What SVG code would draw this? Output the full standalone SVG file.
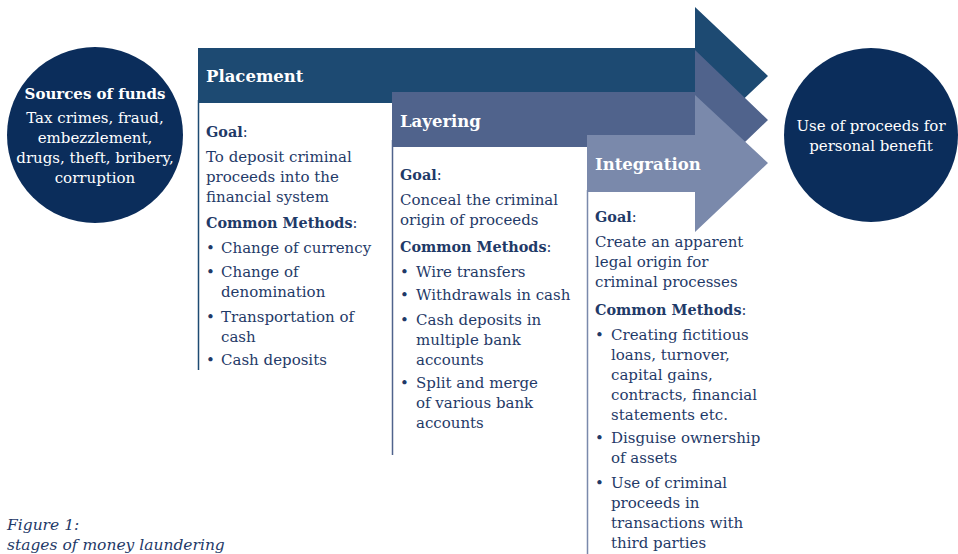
<svg xmlns="http://www.w3.org/2000/svg" width="958" height="554" viewBox="0 0 958 554">
<style>
.t{font-family:"DejaVu Serif","Liberation Serif",serif;font-size:15px;fill:#1f3a68}
.b{font-weight:bold;font-size:14.4px}
.h{font-family:"DejaVu Serif","Liberation Serif",serif;font-size:16.5px;font-weight:bold;fill:#ffffff}
.w{font-family:"DejaVu Serif","Liberation Serif",serif;font-size:15px;fill:#ffffff}
.cap{font-family:"DejaVu Serif","Liberation Serif",serif;font-size:15.5px;font-style:italic;fill:#1f3a68}
.n{font-weight:normal}
</style>
<rect width="958" height="554" fill="#ffffff"/>
<g id="connectors">
<line x1="198.5" y1="100" x2="198.5" y2="370" stroke="#1d4a72" stroke-width="1.5"/>
<line x1="392.5" y1="140" x2="392.5" y2="455" stroke="#50638c" stroke-width="1.5"/>
<line x1="587.5" y1="190" x2="587.5" y2="554" stroke="#7a89ab" stroke-width="1.5"/>
</g>
<g id="placement">
<polygon points="198,48 695,48 695,7 768,76 695,145 695,103 198,103" fill="#1d4a72"/>
<text class="h" x="206" y="82">Placement</text>
</g>
<g id="layering">
<polygon points="392,92 695,92 695,50 768,120 695,190 695,147 392,147" fill="#50638c"/>
<text class="h" x="400" y="127">Layering</text>
</g>
<g id="integration">
<polygon points="587,135 695,135 695,95 768,163 695,232 695,192 587,192" fill="#7a89ab"/>
<text class="h" x="595" y="170">Integration</text>
</g>
<g id="placement-text">
<text class="t b" x="206" y="137">Goal<tspan class="n">:</tspan></text>
<text class="t" x="206" y="162">To deposit criminal</text>
<text class="t" x="206" y="182">proceeds into the</text>
<text class="t" x="206" y="202">financial system</text>
<text class="t b" x="206" y="228">Common Methods<tspan class="n">:</tspan></text>
<text class="t" x="206" y="253">•</text><text class="t" x="221" y="253">Change of currency</text>
<text class="t" x="206" y="277">•</text><text class="t" x="221" y="277">Change of</text>
<text class="t" x="221" y="297">denomination</text>
<text class="t" x="206" y="322">•</text><text class="t" x="221" y="322">Transportation of</text>
<text class="t" x="221" y="342">cash</text>
<text class="t" x="206" y="365">•</text><text class="t" x="221" y="365">Cash deposits</text>
</g>
<g id="layering-text">
<text class="t b" x="400" y="180">Goal<tspan class="n">:</tspan></text>
<text class="t" x="400" y="205">Conceal the criminal</text>
<text class="t" x="400" y="225">origin of proceeds</text>
<text class="t b" x="400" y="252">Common Methods<tspan class="n">:</tspan></text>
<text class="t" x="400" y="277">•</text><text class="t" x="416" y="277">Wire transfers</text>
<text class="t" x="400" y="300">•</text><text class="t" x="416" y="300">Withdrawals in cash</text>
<text class="t" x="400" y="325">•</text><text class="t" x="416" y="325">Cash deposits in</text>
<text class="t" x="416" y="345">multiple bank</text>
<text class="t" x="416" y="365">accounts</text>
<text class="t" x="400" y="388">•</text><text class="t" x="416" y="388">Split and merge</text>
<text class="t" x="416" y="408">of various bank</text>
<text class="t" x="416" y="428">accounts</text>
</g>
<g id="integration-text">
<text class="t b" x="595" y="222">Goal<tspan class="n">:</tspan></text>
<text class="t" x="595" y="247">Create an apparent</text>
<text class="t" x="595" y="267">legal origin for</text>
<text class="t" x="595" y="287">criminal processes</text>
<text class="t b" x="595" y="315">Common Methods<tspan class="n">:</tspan></text>
<text class="t" x="595" y="340">•</text><text class="t" x="611" y="340">Creating fictitious</text>
<text class="t" x="611" y="360">loans, turnover,</text>
<text class="t" x="611" y="380">capital gains,</text>
<text class="t" x="611" y="400">contracts, financial</text>
<text class="t" x="611" y="420">statements etc.</text>
<text class="t" x="595" y="443">•</text><text class="t" x="611" y="443">Disguise ownership</text>
<text class="t" x="611" y="463">of assets</text>
<text class="t" x="595" y="488">•</text><text class="t" x="611" y="488">Use of criminal</text>
<text class="t" x="611" y="508">proceeds in</text>
<text class="t" x="611" y="528">transactions with</text>
<text class="t" x="611" y="548">third parties</text>
</g>
<g id="sources">
<circle cx="95" cy="135" r="88" fill="#0b2d5b"/>
<text class="w b" x="95" y="99" text-anchor="middle">Sources of funds</text>
<text class="w" x="95" y="123" text-anchor="middle">Tax crimes, fraud,</text>
<text class="w" x="95" y="143" text-anchor="middle">embezzlement,</text>
<text class="w" x="95" y="163" text-anchor="middle">drugs, theft, bribery,</text>
<text class="w" x="95" y="183" text-anchor="middle">corruption</text>
</g>
<g id="use">
<circle cx="871" cy="135" r="87" fill="#0b2d5b"/>
<text class="w" x="871" y="131" text-anchor="middle">Use of proceeds for</text>
<text class="w" x="871" y="151" text-anchor="middle">personal benefit</text>
</g>
<g id="caption">
<text class="cap" x="7" y="530">Figure 1:</text>
<text class="cap" x="7" y="550">stages of money laundering</text>
</g>
</svg>
